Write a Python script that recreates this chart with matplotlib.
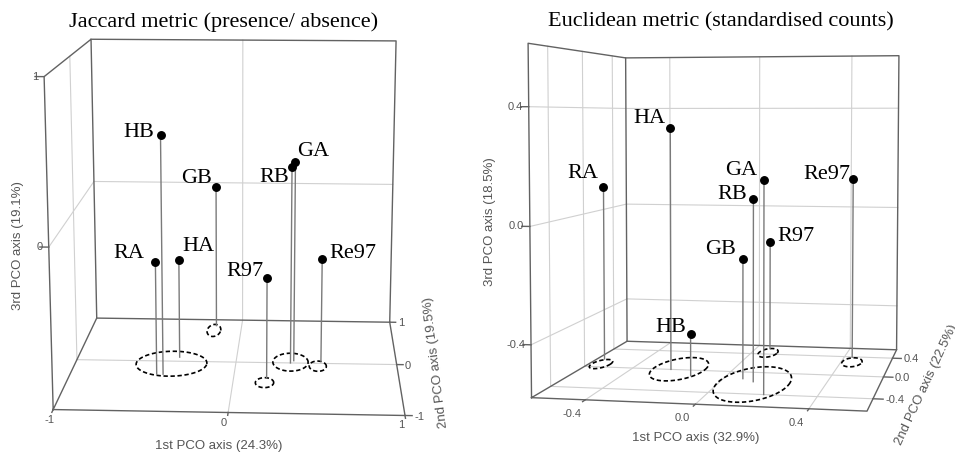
import numpy as np
import matplotlib
matplotlib.use("Agg")
import matplotlib.pyplot as plt
from matplotlib.transforms import offset_copy
from mpl_toolkits.mplot3d import proj3d

W, H, DPI = 955, 453, 100

sites = ["HB", "GB", "GA", "RB", "RA", "HA", "R97", "Re97"]

# Jaccard metric (presence/ absence): PCO scores, axes 1-3
jac_x = [-0.433, -0.17, 0.36, 0.34, -0.472, -0.36, 0.20, 0.53]
jac_y = [-0.28, 0.85, 0.05, 0.00, -0.28, 0.09, -0.32, 0.05]
jac_z = [0.546, 0.00, 0.326, 0.306, -0.26, -0.337, -0.345, -0.31]
# dispersion ellipses drawn on the floor (centre x, centre y, radius x, radius y)
jac_ell_x = [-0.40, -0.18, 0.19, 0.34, 0.51]
jac_ell_y = [-0.05, 0.73, -0.42, 0.02, -0.06]
jac_ell_rx = [0.22, 0.045, 0.055, 0.11, 0.053]
jac_ell_ry = [0.27, 0.15, 0.10, 0.195, 0.11]
jac_lim = (-1, 1, -1, 1)          # x/y limits, z limits
jac_ticks = [-1, 0, 1]
jac_ticklabels = ["-1", "0", "1"]

# Euclidean metric (standardised counts): PCO scores, axes 1-3
euc_x = [-0.136, 0.074, 0.205, 0.124, -0.57, -0.243, 0.06, 0.433]
euc_y = [-0.11, -0.13, -0.40, -0.18, 0.17, 0.00, 0.53, 0.39]
euc_z = [-0.426, -0.146, 0.154, 0.074, 0.094, 0.324, -0.144, 0.124]
euc_ell_x = [-0.55, -0.213, 0.13, 0.07, 0.445]
euc_ell_y = [0.06, 0.02, -0.21, 0.43, 0.28]
euc_ell_rx = [0.038, 0.104, 0.135, 0.039, 0.04]
euc_ell_ry = [0.10, 0.245, 0.333, 0.105, 0.10]
euc_lim = (-0.6, 0.6, -0.58, 0.61)
euc_ticks = [-0.4, 0.0, 0.4]
euc_ticklabels = ["-0.4", "0.0", "0.4"]

# label placement (pixel offset from the point, alignment)
jac_lab = {"HB": (-6, -2, "right"), "GB": (-4, 4, "right"), "GA": (2, 6, "left"),
           "RB": (-3, -15, "right"), "RA": (-11, 4, "right"), "HA": (4, 9, "left"),
           "R97": (-4, 2, "right"), "Re97": (7, 1, "left")}
euc_lab = {"HB": (-4, 2, "right"), "GB": (-7, 5, "right"), "GA": (-7, 5, "right"),
           "RB": (-6, 0, "right"), "RA": (-5, 9, "right"), "HA": (-5, 5, "right"),
           "R97": (7, 1, "left"), "Re97": (-3, 0, "right")}

SERIF = ["Liberation Serif", "DejaVu Serif"]
SANS = ["Liberation Sans", "DejaVu Sans"]
GREY = "#555555"

fig = plt.figure(figsize=(W / DPI, H / DPI), dpi=DPI)


def draw_panel(rect, lim, ticks, ticklabels, grid_vals, aspect, elev, azim, focal,
               xs, ys, zs, ex, ey, erx, ery, lab, xlab_off, zlab_off, ytick_len, ylab_dx):
    ax = fig.add_axes(rect, projection="3d", computed_zorder=False)
    ax.set_proj_type("persp", focal_length=focal)
    lo, hi, zlo, zhi = lim
    span = hi - lo
    ax.set_xlim(lo, hi)
    ax.set_ylim(lo, hi)
    ax.set_zlim(zlo, zhi)
    ax.set_box_aspect(aspect)
    ax.view_init(elev=elev, azim=azim)
    ax.set_axis_off()
    ax.patch.set_alpha(0)
    M = ax.get_proj()

    def label(x, y, z, s, dx, dy, **kw):
        # flat text at the projected position of a 3D point
        px, py, _ = proj3d.proj_transform(x, y, z, M)
        ax.text2D(px, py, s, transform=offset_copy(ax.transData, x=dx, y=dy, units="dots"), **kw)

    grid = dict(color="#d0d0d0", lw=0.8, zorder=1)
    for g in grid_vals:
        ax.plot([g, g], [hi, hi], [zlo, zhi], **grid)      # back wall
        ax.plot([lo, hi], [hi, hi], [g, g], **grid)
        ax.plot([lo, lo], [g, g], [zlo, zhi], **grid)      # left wall
        ax.plot([lo, lo], [lo, hi], [g, g], **grid)
        ax.plot([g, g], [lo, hi], [zlo, zlo], **grid)      # floor
        ax.plot([lo, hi], [g, g], [zlo, zlo], **grid)

    edge = dict(color="#626262", lw=1.0, zorder=2)
    ax.plot([lo, lo, lo, lo, lo], [lo, lo, hi, hi, lo], [zlo, zhi, zhi, zlo, zlo], **edge)
    ax.plot([lo, hi, hi, lo], [hi, hi, hi, hi], [zhi, zhi, zlo, zlo], **edge)
    ax.plot([lo, hi, hi], [lo, lo, hi], [zlo, zlo, zlo], **edge)

    # ticks and tick labels
    tk = 0.025 * span
    ty = ytick_len * span
    tick_txt = dict(color=GREY, fontsize=8, family=SANS)
    for v, s in zip(ticks, ticklabels):
        ax.plot([v, v], [lo, lo - tk], [zlo, zlo], **edge)
        label(v, lo, zlo, s, xlab_off[0], xlab_off[1], ha="center", va="center", **tick_txt)
        ax.plot([hi, hi + ty], [v, v], [zlo, zlo], **edge)
        label(hi + ty, v, zlo, s, ylab_dx, -1, ha="left", va="center", **tick_txt)
        if v > zlo:
            ax.plot([lo - tk, lo], [lo, lo], [v, v], **edge)
            label(lo, lo, v, s, zlab_off, 0, ha="right", va="center", **tick_txt)

    # floor ellipses
    t = np.linspace(0, 2 * np.pi, 120)
    for cx, cy, rx, ry in zip(ex, ey, erx, ery):
        ax.plot(cx + rx * np.cos(t), cy + ry * np.sin(t), np.full_like(t, zlo),
                color="black", lw=1.2, ls=(0, (2.6, 1.6)), zorder=3)

    # drop lines, points and names
    for name, x, y, z in zip(sites, xs, ys, zs):
        ax.plot([x, x], [y, y], [zlo, z], color="#7a7a7a", lw=1.0, zorder=4)
        dx, dy, ha = lab[name]
        label(x, y, z, name, dx, dy, ha=ha, va="baseline", fontsize=16, family=SERIF,
              color="black", zorder=6)
    ax.plot(xs, ys, zs, "o", color="black", ms=5.4, zorder=5)
    return ax


draw_panel([-34.4 / W, -30.4 / H, 526.6 / W, 526.6 / H], jac_lim, jac_ticks, jac_ticklabels,
           [0], (2, 1.83, 1.91), 12.7, -87.2, 0.548,
           jac_x, jac_y, jac_z, jac_ell_x, jac_ell_y, jac_ell_rx, jac_ell_ry, jac_lab,
           (-4, -10), -6, 0.02, 2)
draw_panel([454.7 / W, -35.3 / H, 538 / W, 538 / H], euc_lim, euc_ticks, euc_ticklabels,
           euc_ticks, (2, 2.154, 2.10), 3.9, -78.9, 0.487,
           euc_x, euc_y, euc_z, euc_ell_x, euc_ell_y, euc_ell_rx, euc_ell_ry, euc_lab,
           (-13, -14), -6, 0.03, 2)

# titles and axis names
fig.text(224 / W, 1 - 22 / H, "Jaccard metric (presence/ absence)", ha="center",
         va="center", fontsize=16, family=SERIF)
fig.text(721 / W, 1 - 22 / H, "Euclidean metric (standardised counts)", ha="center",
         va="center", fontsize=16, family=SERIF)

ax_lab = dict(color=GREY, fontsize=9.5, family=SANS, ha="center", va="center")
fig.text(18 / W, 1 - 246 / H, "3rd PCO axis (19.1%)", rotation=90, **ax_lab)
fig.text(219 / W, 1 - 446 / H, "1st PCO axis (24.3%)", **ax_lab)
fig.text(436 / W, 1 - 362 / H, "2nd PCO axis (19.5%)", rotation=97, **ax_lab)
fig.text(490 / W, 1 - 222 / H, "3rd PCO axis (18.5%)", rotation=90, **ax_lab)
fig.text(696 / W, 1 - 438 / H, "1st PCO axis (32.9%)", **ax_lab)
fig.text(926 / W, 1 - 385 / H, "2nd PCO axis (22.5%)", rotation=65, **ax_lab)

fig.savefig("out.png", dpi=DPI)
